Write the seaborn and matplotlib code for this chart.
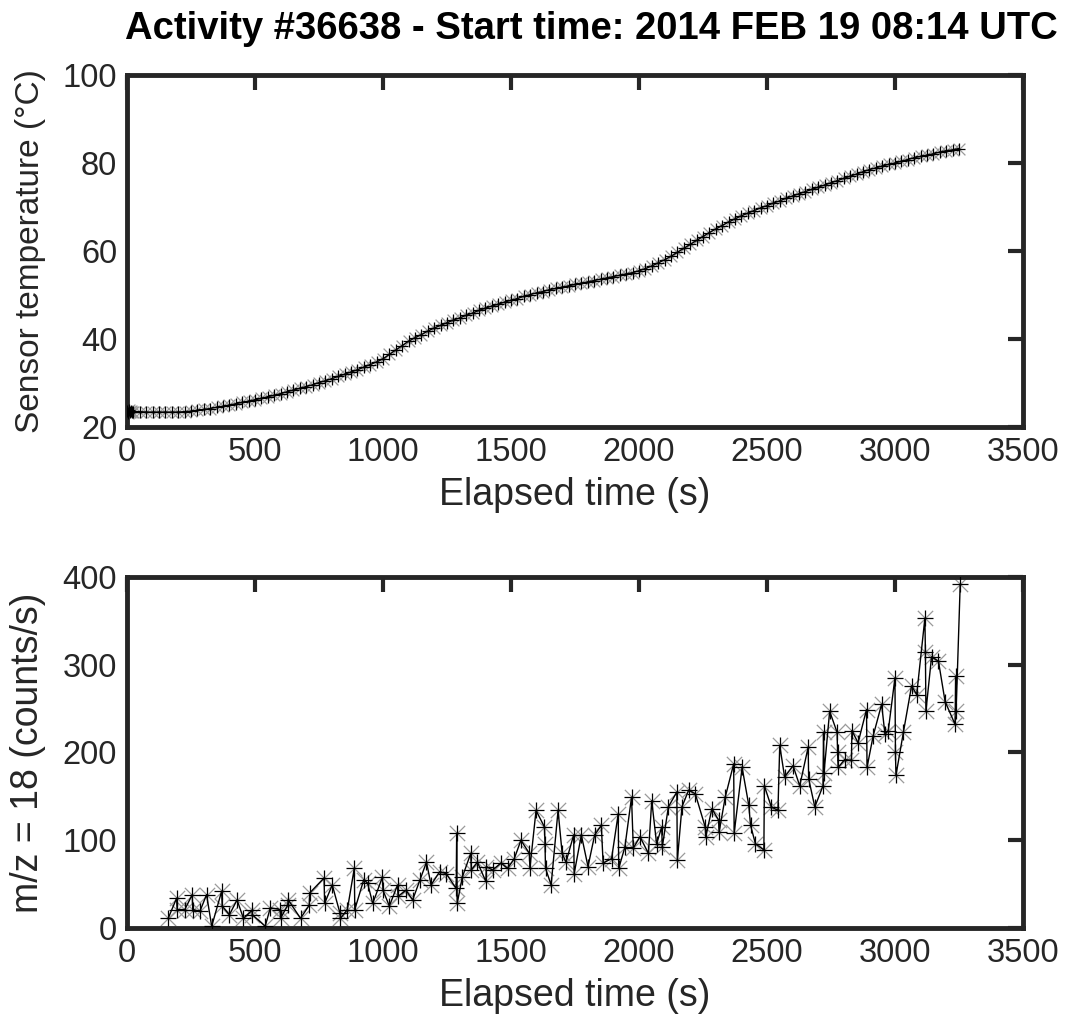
import numpy as np
import pandas as pd
import matplotlib
matplotlib.use("Agg")
import matplotlib.pyplot as plt
from matplotlib import font_manager as fm
import seaborn as sns

# ---------------- data ----------------
title = "Activity #36638 - Start time: 2014 FEB 19 08:14 UTC"

# Sensor temperature (top panel)
temp_t_start = [0, 4, 8, 12, 16, 20]
temp_v_start = [23.6, 23.3, 23.8, 23.4, 23.7, 23.5]
temp_t_main = np.arange(25, 3251, 25)
temp_v_main = [
    23.5, 23.5, 23.4, 23.4, 23.4, 23.4, 23.4, 23.4, 23.5, 23.6,   # 25-250
    23.8, 24.0, 24.2, 24.5, 24.7, 25.0, 25.3, 25.6, 25.9, 26.2,   # 275-500
    26.5, 26.9, 27.2, 27.6, 28.0, 28.4, 28.8, 29.2, 29.6, 30.1,   # 525-750
    30.5, 31.0, 31.5, 32.0, 32.5, 33.0, 33.6, 34.2, 34.8, 35.5,   # 775-1000
    36.5, 37.5, 38.5, 39.5, 40.3, 41.0, 41.8, 42.5, 43.1, 43.7,   # 1025-1250
    44.3, 44.8, 45.4, 45.9, 46.5, 47.0, 47.5, 47.9, 48.4, 48.8,   # 1275-1500
    49.2, 49.7, 50.1, 50.5, 50.8, 51.2, 51.5, 51.8, 52.1, 52.4,   # 1525-1750
    52.7, 53.0, 53.3, 53.6, 53.9, 54.2, 54.5, 54.8, 55.1, 55.5,   # 1775-2000
    56.0, 56.6, 57.3, 58.0, 58.8, 59.7, 60.6, 61.5, 62.4, 63.3,   # 2025-2250
    64.2, 65.0, 65.8, 66.6, 67.3, 68.0, 68.6, 69.2, 69.8, 70.3,   # 2275-2500
    70.9, 71.4, 72.0, 72.5, 73.0, 73.5, 74.0, 74.5, 75.0, 75.5,   # 2525-2750
    76.0, 76.5, 77.0, 77.5, 78.0, 78.5, 78.9, 79.3, 79.7, 80.0,   # 2775-3000
    80.4, 80.8, 81.2, 81.5, 81.8, 82.1, 82.5, 82.8, 83.0, 83.3,   # 3025-3250
]

# m/z = 18 count rate (bottom panel)
mz_t = [161, 194, 196, 226, 255, 257, 285, 311, 331, 370, 372, 400, 430, 455,
        488, 490, 540, 560, 598, 600, 628, 630, 678, 712, 714, 770, 772, 802,
        832, 834, 861, 888, 890, 925, 940, 960, 998, 1000, 1025, 1057, 1059,
        1090, 1116, 1145, 1170, 1188, 1221, 1247, 1286, 1288, 1290,
        1310, 1343, 1345, 1369, 1402, 1404, 1428, 1461, 1487, 1513, 1539,
        1572, 1574, 1598, 1631, 1633, 1635, 1657, 1684, 1700, 1715, 1745,
        1747, 1775, 1801, 1827, 1853, 1860, 1893, 1919, 1921, 1945, 1971,
        1978, 2004, 2037, 2050, 2069, 2089, 2091, 2115, 2148, 2150, 2168,
        2194, 2220, 2259, 2261, 2285, 2311, 2313, 2337, 2370, 2372, 2403,
        2429, 2436, 2455, 2488, 2490,
        2517, 2543, 2550, 2569, 2602, 2628, 2661, 2663, 2687, 2719, 2721,
        2723, 2745, 2774, 2776, 2778, 2804, 2830, 2832, 2856, 2889, 2891,
        2915, 2948, 2961, 2974, 3000, 3002, 3004, 3033, 3065, 3085, 3117,
        3119, 3121, 3143, 3170, 3196, 3235, 3237, 3239, 3255]
mz_v = [11, 34, 21, 21, 38, 21, 19, 38, 2, 42, 25, 15, 32, 11,
        20, 15, 2, 23, 21, 11, 26, 32, 11, 26, 40, 57, 28, 49,
        17, 11, 21, 68, 21, 55, 51, 28, 58, 43, 25, 49, 36,
        43, 32, 55, 75, 49, 64, 62, 45, 108, 28,
        58, 85, 66, 75, 53, 70, 66, 74, 68, 79, 100,
        85, 68, 134, 115, 96, 68, 49, 134, 85, 75, 106,
        62, 106, 70, 106, 117, 74, 79, 130, 68, 92, 149,
        91, 104, 85, 145, 96, 115, 92, 138, 155, 77, 138,
        157, 153, 115, 104, 136, 123, 109, 149, 187, 108, 183,
        140, 117, 96, 89, 162,
        138, 134, 208, 172, 185, 162, 206, 170, 138, 162, 223,
        177, 247, 223, 200, 183, 192, 191, 225, 211, 249, 183,
        219, 255, 221, 225, 285, 200, 174, 223, 276, 266, 353,
        315, 247, 309, 304, 258, 232, 287, 247, 392]

x_ticks = [0, 500, 1000, 1500, 2000, 2500, 3000, 3500]
temp_ticks = [20, 40, 60, 80, 100]
mz_ticks = [0, 100, 200, 300, 400]

# ---------------- style ----------------
sns.set_theme(style="white")
avail = {f.name for f in fm.fontManager.ttflist}
base_font = "Liberation Sans" if "Liberation Sans" in avail else "DejaVu Sans"
plt.rcParams["font.family"] = [base_font, "DejaVu Sans"]

frame_col = "#262626"
tick_fs = 23.5

fig = plt.figure(figsize=(10.66, 10.35), dpi=100)
ax1 = fig.add_axes([0.1191, 0.5874, 0.8405, 0.3401])
ax2 = fig.add_axes([0.1191, 0.1034, 0.8405, 0.3391])

temp_df = pd.DataFrame({"t": list(temp_t_start) + list(temp_t_main),
                        "v": list(temp_v_start) + list(temp_v_main)})
mz_df = pd.DataFrame({"t": mz_t, "v": mz_v})

for ax, df, ms in [(ax1, temp_df, 8.5), (ax2, mz_df, 11)]:
    sns.scatterplot(data=df, x="t", y="v", ax=ax, marker="x", color="#9a9a9a",
                    s=ms ** 2, linewidth=0.9, zorder=2, legend=False)
    sns.lineplot(data=df, x="t", y="v", ax=ax, color="black", linewidth=1.0,
                 marker="+", markersize=ms, markeredgewidth=0.9,
                 markeredgecolor="black", estimator=None, sort=False, zorder=3)

ax1.set_xlim(0, 3500)
ax1.set_ylim(20, 100)
ax1.set_yticks(temp_ticks)
ax1.set_ylabel("Sensor temperature (°C)", fontsize=24)
ax2.set_xlim(0, 3500)
ax2.set_ylim(0, 400)
ax2.set_yticks(mz_ticks)
ax2.set_ylabel("m/z = 18 (counts/s)", fontsize=27)

for ax in (ax1, ax2):
    ax.set_xticks(x_ticks)
    ax.set_xlabel("Elapsed time (s)", fontsize=27, labelpad=7)
    ax.tick_params(direction="in", length=11, width=3, color=frame_col,
                   labelsize=tick_fs, labelcolor=frame_col,
                   top=True, right=True, pad=7)
    for sp in ax.spines.values():
        sp.set_visible(True)
        sp.set_linewidth(3.5)
        sp.set_color(frame_col)
    ax.xaxis.label.set_color(frame_col)
    ax.yaxis.label.set_color(frame_col)
    ax.yaxis.set_label_coords(-0.09, 0.5)

ttl = fig.text(591 / 1066, 1 - 29 / 1035, title, ha="center", va="center",
               fontsize=26, fontweight="bold", color="black",
               family=[base_font, "DejaVu Sans"])
fig.canvas.draw()
w = ttl.get_window_extent().width
if w > 0:
    ttl.set_fontsize(26 * 933.0 / w)

fig.savefig("out.png", dpi=100)
